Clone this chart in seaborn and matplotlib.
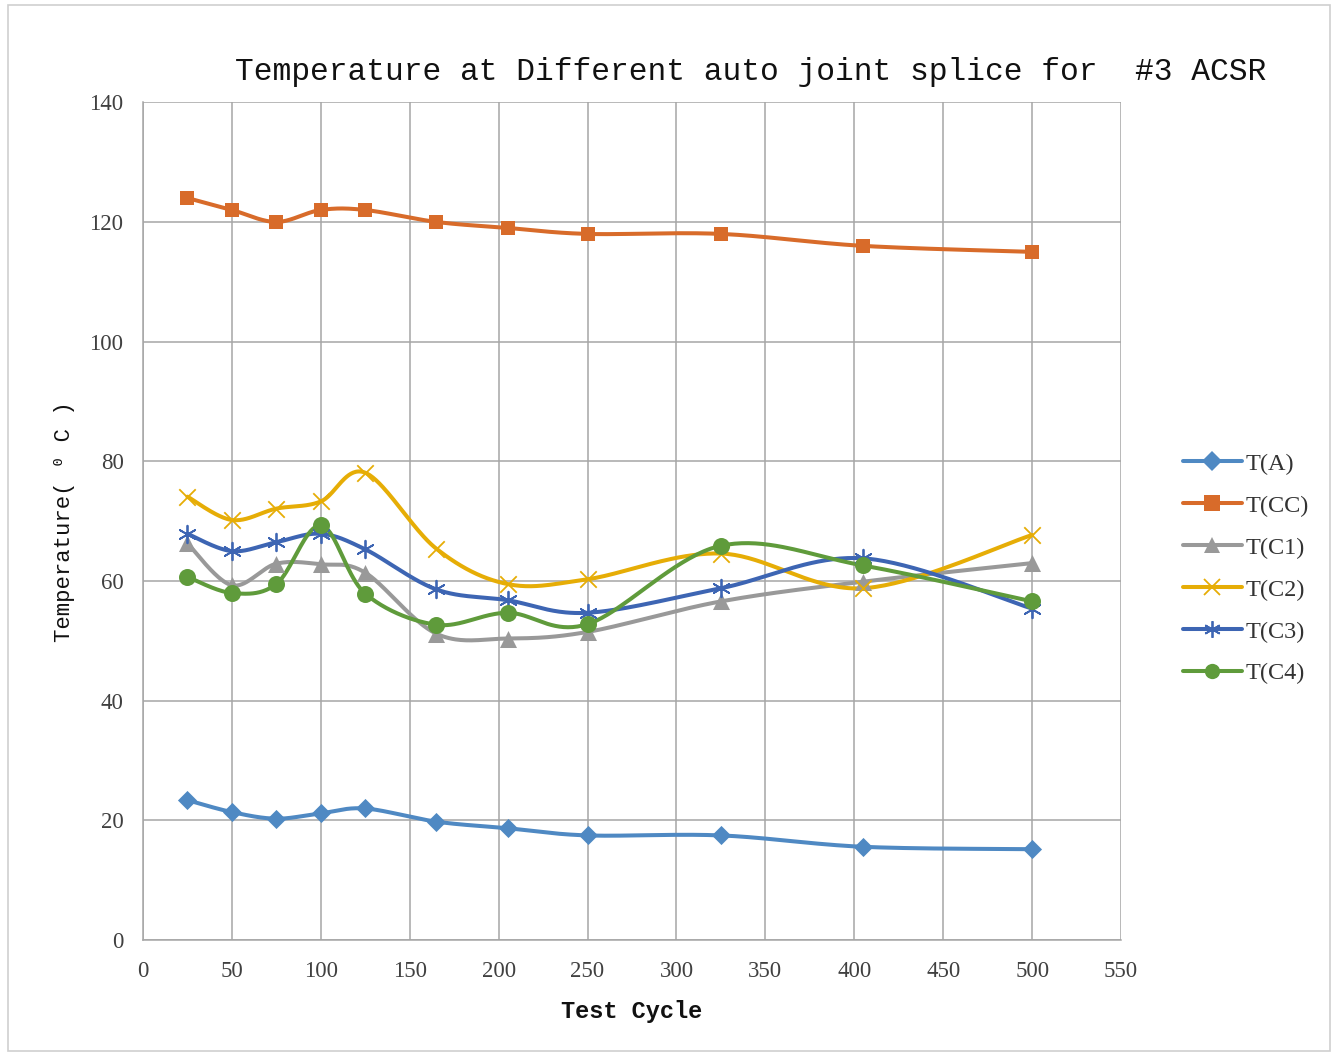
import numpy as np
import pandas as pd
import matplotlib
matplotlib.use("Agg")
import matplotlib.pyplot as plt
from matplotlib.lines import Line2D
from matplotlib.patches import Rectangle
import seaborn as sns

# Test cycles and measured temperatures (deg C)
cycles = [25, 50, 75, 100, 125, 165, 205, 250, 325, 405, 500]
t_a = [23.4, 21.4, 20.3, 21.2, 22.0, 19.8, 18.7, 17.5, 17.5, 15.6, 15.2]
t_cc = [124, 122, 120, 122, 122, 120, 119, 118, 118, 116, 115]
t_c1 = [66.3, 59.3, 62.9, 62.8, 61.4, 51.2, 50.4, 51.5, 56.6, 59.9, 63.0]
t_c2 = [74.1, 70.2, 72.1, 73.3, 78.1, 65.4, 59.5, 60.3, 64.6, 58.8, 67.7]
t_c3 = [67.9, 65.0, 66.5, 67.9, 65.3, 58.6, 56.8, 54.7, 58.8, 63.8, 55.4]
t_c4 = [60.7, 58.0, 59.5, 69.3, 57.9, 52.7, 54.7, 52.8, 65.9, 62.6, 56.6]

series_names = ["T(A)", "T(CC)", "T(C1)", "T(C2)", "T(C3)", "T(C4)"]
series_vals = [t_a, t_cc, t_c1, t_c2, t_c3, t_c4]
colors = ["#4f89c3", "#d86b2a", "#999999", "#e6ad06", "#3d65b3", "#5f9b3b"]
markers = ["D", "s", "^", "x", (6, 2, 0), "o"]
msizes = [95, 100, 150, 140, 160, 150]


def smooth(xs, ys, n=40):
    """Catmull-Rom style cubic Bezier through every point."""
    p = np.column_stack([xs, ys]).astype(float)
    pts = np.vstack([p[0], p, p[-1]])
    out = []
    for i in range(1, len(pts) - 2):
        p0, p1, p2, p3 = pts[i - 1], pts[i], pts[i + 1], pts[i + 2]
        c1 = p1 + (p2 - p0) / 6.0
        c2 = p2 - (p3 - p1) / 6.0
        t = np.linspace(0, 1, n, endpoint=(i == len(pts) - 3))[:, None]
        seg = ((1 - t) ** 3) * p1 + 3 * ((1 - t) ** 2) * t * c1 + 3 * (1 - t) * t ** 2 * c2 + t ** 3 * p2
        out.append(seg)
    out = np.vstack(out)
    return out[:, 0], out[:, 1]


sns.set_theme(style="white")
fig = plt.figure(figsize=(13.41, 10.54), dpi=100)
ax = fig.add_axes([0.1066, 0.108, 0.7294, 0.795])

for name, vals, col, mk, ms in zip(series_names, series_vals, colors, markers, msizes):
    sx, sy = smooth(cycles, vals)
    curve = pd.DataFrame({"cycle": sx, "temp": sy})
    sns.lineplot(data=curve, x="cycle", y="temp", sort=False, estimator=None,
                 color=col, linewidth=2.9, ax=ax, legend=False)
    pts = pd.DataFrame({"cycle": cycles, "temp": vals})
    if mk in ("x", (6, 2, 0)):
        sns.scatterplot(data=pts, x="cycle", y="temp", marker=mk, s=ms, color=col,
                        linewidth=1.3, ax=ax, legend=False, zorder=5)
    else:
        sns.scatterplot(data=pts, x="cycle", y="temp", marker=mk, s=ms, color=col,
                        edgecolor=col, linewidth=0, ax=ax, legend=False, zorder=5)

ax.set_xlim(0, 550)
ax.set_ylim(0, 140)
ax.set_xticks(np.arange(0, 551, 50))
ax.set_yticks(np.arange(0, 141, 20))
ax.grid(True, color="#a6a6a6", linewidth=1.1)
ax.set_axisbelow(True)
for side in ["top", "right"]:
    ax.spines[side].set_visible(False)
for side in ["left", "bottom"]:
    ax.spines[side].set_color("#a6a6a6")
    ax.spines[side].set_linewidth(1.1)
ax.tick_params(axis="x", length=0, pad=15, labelsize=16.5, labelcolor="#404040")
ax.tick_params(axis="y", length=0, pad=14, labelsize=16.5, labelcolor="#404040")
for lbl in ax.get_xticklabels() + ax.get_yticklabels():
    lbl.set_fontfamily("Liberation Serif")

mono = ["Liberation Mono", "DejaVu Sans Mono"]
ax.set_xlabel("Test Cycle", fontsize=17, fontweight="bold", family=mono, labelpad=13, color="#111111")
ax.set_ylabel("Temperature( \u2070 C )", fontsize=16, family=mono, labelpad=10, color="#111111")

fig.text(0.5595, 0.932, "Temperature at Different auto joint splice for  #3 ACSR",
         ha="center", va="center", fontsize=22.5, family=mono, color="#111111")

handles = [Line2D([0], [0], color=c, linewidth=2.9, marker=m,
                  markersize={"D": 10, "s": 11, "^": 11, "o": 11}.get(m, 12),
                  markeredgewidth=(1.3 if m in ("x", (6, 2, 0)) else 0))
           for c, m in zip(colors, markers)]
fig.legend(handles, series_names, loc="center left", bbox_to_anchor=(0.866, 0.4605),
           frameon=False, handlelength=2.4, handletextpad=0.15, labelspacing=0.82,
           prop={"family": "Liberation Serif", "size": 17.5}, labelcolor="#333333")

fig.patches.append(Rectangle((0.006, 0.003), 0.986, 0.992, transform=fig.transFigure,
                             fill=False, edgecolor="#cfcfcf", linewidth=1.2))

fig.savefig("out.png", dpi=100)
